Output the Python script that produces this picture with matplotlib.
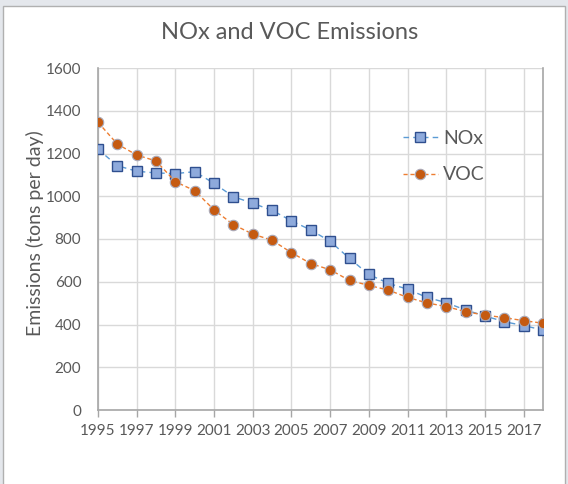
import matplotlib
matplotlib.use("Agg")
import matplotlib.pyplot as plt
from matplotlib.patches import Rectangle

years = list(range(1995, 2019))
nox = [1220, 1143, 1117, 1109, 1106, 1115, 1060, 998, 967, 934, 885, 842,
       789, 709, 634, 593, 565, 527, 502, 468, 440, 413, 395, 374]
voc = [1346, 1244, 1193, 1165, 1068, 1026, 936, 867, 823, 794, 736, 685,
       656, 606, 583, 561, 527, 501, 484, 460, 444, 432, 418, 406]
x_ticks = list(range(1995, 2018, 2))
y_ticks = list(range(0, 1601, 200))

plt.rcParams["font.family"] = ["Lato", "DejaVu Sans"]
text_color = "#595959"
grid_color = "#d9d9d9"

fig = plt.figure(figsize=(5.68, 4.84), dpi=100)
fig.patch.set_facecolor("#e4e7ec")
# white chart area with thin border, like the spreadsheet frame
fig.patches.append(Rectangle((3 / 568, -0.01), 562 / 568, 1 - 6 / 484 + 0.01,
                             transform=fig.transFigure, facecolor="white",
                             edgecolor="#b0b0b0", linewidth=1, zorder=-5))

ax = fig.add_axes([98 / 568, 1 - 410 / 484, 445 / 568, 342 / 484])
ax.set_facecolor("white")

ax.plot(years, nox, linestyle=(0, (4, 3)), color="#5B9BD5", linewidth=1.0,
        marker="s", markersize=7.5, markerfacecolor="#8EAADC",
        markeredgecolor="#2F4F8F", markeredgewidth=1.0, label="NOx", zorder=3)
ax.plot(years, voc, linestyle=(0, (3, 2)), color="#ED7D31", linewidth=1.0,
        marker="o", markersize=7.5, markerfacecolor="#C55A11",
        markeredgecolor="#a9a9b8", markeredgewidth=0.8, label="VOC", zorder=4)

ax.set_xlim(1995, 2018)
ax.set_ylim(0, 1600)
ax.set_xticks(x_ticks)
ax.set_yticks(y_ticks)
ax.grid(True, color=grid_color, linewidth=1.0, zorder=0)
ax.set_axisbelow(True)

ax.spines["top"].set_visible(False)
for side in ["left", "bottom", "right"]:
    ax.spines[side].set_color("#a6a6a6")
    ax.spines[side].set_linewidth(1.2)

ax.tick_params(axis="x", colors="#a6a6a6", length=5, width=1, labelsize=11,
               labelcolor=text_color, pad=5)
ax.tick_params(axis="y", length=0, labelsize=11, labelcolor=text_color, pad=12)

ax.set_ylabel("Emissions (tons per day)", fontsize=14, color=text_color,
              va="center")
ax.yaxis.set_label_coords((35 - 98) / 445, (410 - 233) / 342)
fig.text(290 / 568, 1 - 33 / 484, "NOx and VOC Emissions", ha="center",
         va="center", fontsize=17, color=text_color)

ax.legend(loc="upper left", bbox_to_anchor=(0.645, 0.87), frameon=False,
          fontsize=14, labelcolor=text_color, handlelength=1.8,
          labelspacing=1.0, handletextpad=0.3)

fig.savefig("out.png", dpi=100)
